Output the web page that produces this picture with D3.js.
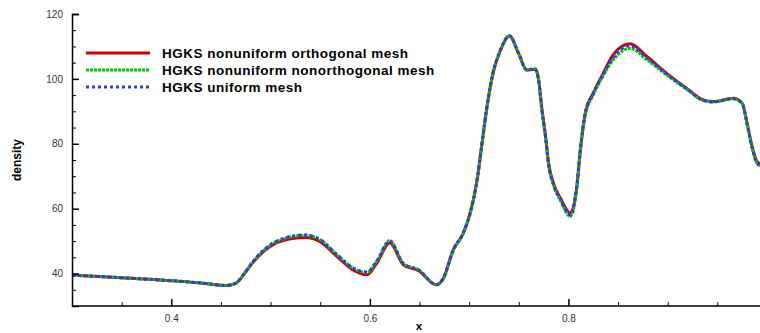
<!DOCTYPE html>
<html>
<head>
<meta charset="utf-8">
<script src="https://cdn.jsdelivr.net/npm/d3@7"></script>
<style>
  body{margin:0;background:#fff;overflow:hidden;}
  svg{display:block;font-family:"Liberation Sans",Arial,sans-serif;}
</style>
</head>
<body>
<div id="chart"></div>
<script>
// x positions of the samples
var xs = [0.30,0.35,0.40,0.43,0.455,0.465,0.475,0.483,0.4995,0.516,0.535,0.55,0.567,0.583,0.597,0.607,0.62,0.634,0.649,0.667,0.674,0.684,0.694,0.701,0.708,0.713,0.718,0.724,0.731,0.7406,0.7497,0.758,0.7665,0.770,0.773,0.777,0.780,0.785,0.792,0.802,0.8085,0.812,0.817,0.825,0.835,0.845,0.862,0.879,0.899,0.919,0.936,0.946,0.966,0.975,0.980,0.985,0.990,0.995,1.0];

var orthoMesh = [39.5,38.7,37.8,37.1,36.3,37.0,40.5,43.7,48.3,50.5,51.1,49.8,45.2,41.1,39.6,43.2,49.5,42.6,40.9,36.5,38.5,47.3,52.4,58.6,68.8,80.2,91.5,101.7,108.4,113.2,107.9,102.7,103.0,99.7,91.4,82.2,74.0,67.8,63.2,58.6,67.0,78.0,89.4,95.6,101.7,107.4,110.8,106.9,101.7,97.1,93.5,93.0,94.0,92.5,86.3,79.1,74.5,73.5,73.0];

var nonorthoMesh = [39.5,38.7,37.8,37.1,36.3,37.0,40.6,43.9,48.7,51.0,51.8,50.4,45.8,41.7,40.3,43.8,50.2,43.0,41.2,36.6,38.4,47.1,52.3,58.4,68.6,80.0,91.3,101.6,108.4,113.3,108.0,102.9,103.1,99.6,91.2,82.0,73.6,67.2,62.5,57.6,66.5,77.5,88.8,95.0,101.0,105.8,109.4,105.9,101.2,96.8,93.3,92.9,93.9,92.4,86.0,78.7,74.0,73.0,72.5];

var uniformMesh = [39.5,38.7,37.8,37.1,36.3,37.1,40.7,44.0,48.8,51.1,51.9,50.4,45.8,41.7,40.5,43.9,49.9,43.0,41.1,36.6,38.6,47.4,52.5,58.7,68.9,80.3,91.6,101.8,108.5,113.3,108.0,102.8,103.0,99.6,91.1,81.9,73.7,67.4,62.8,58.0,67.2,78.3,89.6,95.5,101.4,106.6,110.2,106.5,101.5,97.0,93.4,92.9,93.9,92.4,86.1,78.8,74.1,72.8,72.3];

var seriesNames = ["HGKS nonuniform orthogonal mesh","HGKS nonuniform nonorthogonal mesh","HGKS uniform mesh"];
var seriesColors = ["#cc0000","#00c800","#3333ff"];
var seriesDash = [null,"3,1","3,3"];

var xTicks = [0.4,0.6,0.8];
var xMinor = [0.35,0.45,0.5,0.55,0.65,0.7,0.75,0.85,0.9,0.95];
var yTicks = [40,60,80,100,120];
var yMinor = [35,45,50,55,65,70,75,85,90,95,105,110,115];

var width = 760, height = 333;

var svg = d3.select("#chart")
  .append("svg")
  .attr("width",width)
  .attr("height",height);

var x = d3.scaleLinear().domain([0.3,1.0]).range([72,767]);
var y = d3.scaleLinear().domain([30,120]).range([306,14]);

var allSeries = [orthoMesh,nonorthoMesh,uniformMesh];

var line = d3.line()
  .x(function(d){ return x(d[0]); })
  .y(function(d){ return y(d[1]); })
  .curve(d3.curveMonotoneX);

svg.append("clipPath").attr("id","clip")
  .append("rect")
  .attr("x",72).attr("y",0)
  .attr("width",width-72).attr("height",306);

var g = svg.append("g").attr("clip-path","url(#clip)");

allSeries.forEach(function(vals,i){
  var pts = xs.map(function(v,j){ return [v,vals[j]]; });
  g.append("path")
    .datum(pts)
    .attr("fill","none")
    .attr("stroke",seriesColors[i])
    .attr("stroke-width",3)
    .attr("stroke-dasharray",seriesDash[i])
    .attr("d",line);
});

// bottom axis, ticks point inward
var xAxis = svg.append("g")
  .attr("transform","translate(0,306)")
  .call(d3.axisBottom(x).tickValues(xTicks).tickSize(-7).tickPadding(5).tickFormat(d3.format(".1f")));
xAxis.select(".domain").attr("stroke-width",1.5).attr("d","M72,0H760");
xAxis.selectAll(".tick line").attr("stroke-width",1.5);
xAxis.selectAll("text").attr("font-size",10).attr("fill","#333").attr("dy","1.05em");

var xMinorAxis = svg.append("g")
  .attr("transform","translate(0,306)")
  .call(d3.axisBottom(x).tickValues(xMinor).tickSize(-4).tickFormat(""));
xMinorAxis.select(".domain").remove();

var yAxis = svg.append("g")
  .attr("transform","translate(72,0)")
  .call(d3.axisLeft(y).tickValues(yTicks).tickSize(-7).tickPadding(9));
yAxis.select(".domain").attr("stroke-width",1.5);
yAxis.selectAll(".tick line").attr("stroke-width",1.5);
yAxis.selectAll("text").attr("font-size",10).attr("fill","#333");

var yMinorAxis = svg.append("g")
  .attr("transform","translate(72,0)")
  .call(d3.axisLeft(y).tickValues(yMinor).tickSize(-4).tickFormat(""));
yMinorAxis.select(".domain").remove();

svg.append("text")
  .attr("x",419).attr("y",330)
  .attr("text-anchor","middle")
  .style("font-size","11.5px")
  .style("font-weight","bold")
  .text("x");

svg.append("text")
  .attr("transform","translate(21,160) rotate(-90)")
  .attr("text-anchor","middle")
  .style("font-size","12px")
  .style("font-weight","bold")
  .text("density");

// legend
var legend = svg.append("g");
seriesNames.forEach(function(name,i){
  var ly = 53 + i*17;
  legend.append("line")
    .attr("x1",86).attr("x2",150)
    .attr("y1",ly).attr("y2",ly)
    .attr("stroke",seriesColors[i])
    .attr("stroke-width",3)
    .attr("stroke-dasharray",seriesDash[i]);
  legend.append("text")
    .attr("x",162).attr("y",ly+4.5)
    .style("font-size","13.5px")
    .style("font-weight","bold")
    .style("letter-spacing","0.5px")
    .text(name);
});
</script>
</body>
</html>
